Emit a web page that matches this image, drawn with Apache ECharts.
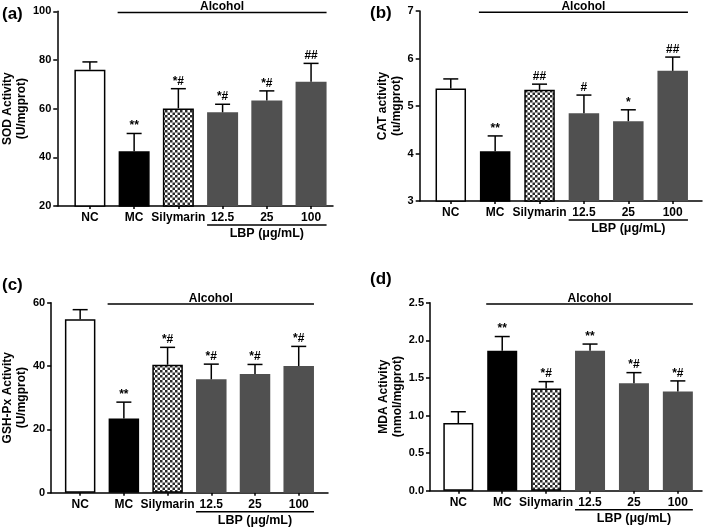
<!DOCTYPE html>
<html>
<head>
<meta charset="utf-8">
<script src="https://cdn.jsdelivr.net/npm/echarts@6/dist/echarts.min.js"></script>
<style>
html,body{margin:0;padding:0;background:#fff;}
#main{width:709px;height:528px;}
</style>
</head>
<body>
<div id="main"></div>
<script>
// ---------- data ----------
const categories = ['NC', 'MC', 'Silymarin', '12.5', '25', '100'];

const sodMean = [76.0, 42.5, 60.1, 58.5, 63.3, 71.1];
const sodErr  = [3.2, 7.3, 8.1, 3.3, 4.0, 7.5];
const sodSig  = ['', '**', '*#', '*#', '*#', '##'];

const catMean = [5.37, 4.05, 5.34, 4.85, 4.68, 5.74];
const catErr  = [0.20, 0.32, 0.12, 0.38, 0.24, 0.29];
const catSig  = ['', '**', '##', '#', '*', '##'];

const gshMean = [54.8, 23.4, 40.4, 35.8, 37.5, 40.0];
const gshErr  = [3.0, 5.2, 5.5, 4.8, 3.0, 6.2];
const gshSig  = ['', '**', '*#', '*#', '*#', '*#'];

const mdaMean = [0.90, 1.86, 1.36, 1.86, 1.43, 1.32];
const mdaErr  = [0.15, 0.19, 0.09, 0.09, 0.14, 0.14];
const mdaSig  = ['', '**', '*#', '**', '*#', '*#'];

const alcoholGroup = [1, 5];   // MC .. 100
const lbpGroup = [3, 5];       // 12.5 .. 100
const groupTitles = ['Alcohol', 'LBP (\u03bcg/mL)'];
const panelLetters = ['(a)', '(b)', '(c)', '(d)'];
const yNames = ['SOD Activity\n(U/mgprot)', 'CAT activity\n(u/mgprot)', 'GSH-Px Activity\n(U/mgprot)', 'MDA Activity\n(nmol/mgprot)'];

// ---------- layout / style ----------
const FONT = 'Liberation Sans, Arial, sans-serif';
const GRAY = '#505050';

function checker() {
  const c = document.createElement('canvas');
  c.width = 5; c.height = 5;
  const g = c.getContext('2d');
  g.fillStyle = '#ffffff'; g.fillRect(0, 0, 5, 5);
  g.fillStyle = '#2a2a2a'; g.fillRect(0, 0, 2.5, 2.5); g.fillRect(2.5, 2.5, 2.5, 2.5);
  return c;
}
const checkerImg = checker();

const barStyles = [
  { color: '#ffffff', borderColor: '#000', borderWidth: 1.5 },
  { color: '#000000', borderColor: '#000', borderWidth: 1.5 },
  { color: { image: checkerImg, repeat: 'repeat' }, borderColor: '#000', borderWidth: 1.5 },
  { color: GRAY, borderWidth: 0 },
  { color: GRAY, borderWidth: 0 },
  { color: GRAY, borderWidth: 0 }
];

const panels = [
  { grid: { left: 50, top: 11.3, width: 283, height: 194.7 }, xMin: -0.738, xMax: 5.496,
    yMin: 20, yMax: 100, yInt: 20, bw: 31, nameGap: 21, dec: 0,
    mean: sodMean, err: sodErr, sig: sodSig, letter: { left: 2, top: 6 }, lbpOff: 19 },
  { grid: { left: 419.7, top: 11, width: 282.3, height: 190 }, xMin: -0.70, xMax: 5.66,
    yMin: 3, yMax: 7, yInt: 1, bw: 30.5, nameGap: 11, dec: 0,
    mean: catMean, err: catErr, sig: catSig, letter: { left: 370, top: 5 }, lbpOff: 19 },
  { grid: { left: 46.7, top: 302.7, width: 281.3, height: 190 }, xMin: -0.664, xMax: 5.67,
    yMin: 0, yMax: 60, yInt: 20, bw: 30.5, nameGap: 19, dec: 0,
    mean: gshMean, err: gshErr, sig: gshSig, letter: { left: 2, top: 277 }, lbpOff: 19 },
  { grid: { left: 430, top: 302.7, width: 272, height: 188 }, xMin: -0.645, xMax: 5.55,
    yMin: 0, yMax: 2.5, yInt: 0.5, bw: 30, nameGap: 22, dec: 1,
    mean: mdaMean, err: mdaErr, sig: mdaSig, letter: { left: 370, top: 271 }, lbpOff: 19 }
];

const option = {
  animation: false,
  backgroundColor: '#ffffff',
  textStyle: { fontFamily: FONT },
  title: [], grid: [], xAxis: [], yAxis: [], series: []
};

panels.forEach((p, k) => {
  option.title.push({
    text: panelLetters[k], left: p.letter.left, top: p.letter.top, padding: 0,
    textStyle: { fontFamily: FONT, fontWeight: 'bold', fontSize: 17, color: '#000' }
  });
  option.grid.push(Object.assign({ containLabel: false }, p.grid));
  option.xAxis.push({
    type: 'value', gridIndex: k, min: p.xMin, max: p.xMax,
    splitLine: { show: false },
    axisLine: { show: true, onZero: false, lineStyle: { color: '#000', width: 1.5 } },
    axisTick: { show: true, customValues: [0, 1, 2, 3, 4, 5], length: 3, lineStyle: { color: '#000', width: 1.5 } },
    axisLabel: { show: true, customValues: [0, 1, 2, 3, 4, 5], margin: 6,
      formatter: v => categories[Math.round(v)],
      fontFamily: FONT, fontWeight: 'bold', fontSize: 12, color: '#000' }
  });
  option.yAxis.push({
    type: 'value', gridIndex: k, min: p.yMin, max: p.yMax, interval: p.yInt,
    splitLine: { show: false },
    axisLine: { show: true, onZero: false, lineStyle: { color: '#000', width: 1.5 } },
    axisTick: { show: true, length: 4, lineStyle: { color: '#000', width: 1.5 } },
    axisLabel: { margin: 6, fontFamily: FONT, fontWeight: 'bold', fontSize: 11, color: '#000',
      formatter: v => Number(v).toFixed(p.dec) },
    name: yNames[k], nameLocation: 'middle', nameGap: p.nameGap,
    nameTextStyle: { fontFamily: FONT, fontWeight: 'bold', fontSize: 12, lineHeight: 14, color: '#000' }
  });
  // bars
  option.series.push({
    type: 'bar', xAxisIndex: k, yAxisIndex: k, barWidth: p.bw, z: 2,
    data: p.mean.map((v, i) => ({ value: [i, v], itemStyle: barStyles[i] }))
  });
  // error bars + significance marks
  option.series.push({
    type: 'custom', xAxisIndex: k, yAxisIndex: k, z: 3,
    data: p.mean.map((v, i) => [i, v, p.err[i]]),
    renderItem: (params, api) => {
      const x = api.value(0), m = api.value(1), e = api.value(2);
      const b = api.coord([x, m]);
      const t = api.coord([x, m + e]);
      const half = 7.5;
      const children = [
        { type: 'line', shape: { x1: b[0], y1: b[1], x2: t[0], y2: t[1] }, style: { stroke: '#000', lineWidth: 1.5 } },
        { type: 'line', shape: { x1: t[0] - half, y1: t[1], x2: t[0] + half, y2: t[1] }, style: { stroke: '#000', lineWidth: 1.5 } }
      ];
      const s = p.sig[params.dataIndex];
      if (s) {
        children.push({ type: 'text', style: { text: s, x: t[0], y: t[1] - 1.5, align: 'center', verticalAlign: 'bottom',
          fontFamily: FONT, fontWeight: 'bold', fontSize: 12, fill: '#000' } });
      }
      return { type: 'group', children };
    }
  });
  // group brackets: Alcohol (above) and LBP (below)
  option.series.push({
    type: 'custom', xAxisIndex: k, yAxisIndex: k, z: 3, clip: false,
    data: [[alcoholGroup[0], alcoholGroup[1], 0], [lbpGroup[0], lbpGroup[1], 1]],
    renderItem: (params, api) => {
      const a = api.value(0), bIdx = api.value(1), which = api.value(2);
      const half = p.bw / 2;
      if (which === 0) {
        const pa = api.coord([a, p.yMax]), pb = api.coord([bIdx, p.yMax]);
        const y = pa[1] + 1.3;
        const x1 = pa[0] - half - 1, x2 = pb[0] + half;
        return { type: 'group', children: [
          { type: 'line', shape: { x1, y1: y, x2, y2: y }, style: { stroke: '#000', lineWidth: 1.5 } },
          { type: 'text', style: { text: groupTitles[0], x: (x1 + x2) / 2, y: y + 0.5, align: 'center', verticalAlign: 'bottom',
            fontFamily: FONT, fontWeight: 'bold', fontSize: 12, fill: '#000' } }
        ] };
      } else {
        const pa = api.coord([a, p.yMin]), pb = api.coord([bIdx, p.yMin]);
        const y = pa[1] + p.lbpOff;
        const x1 = pa[0] - half, x2 = pb[0] + half;
        return { type: 'group', children: [
          { type: 'line', shape: { x1, y1: y, x2, y2: y }, style: { stroke: '#000', lineWidth: 1.5 } },
          { type: 'text', style: { text: groupTitles[1], x: (x1 + x2) / 2, y: y + 2, align: 'center', verticalAlign: 'top',
            fontFamily: FONT, fontWeight: 'bold', fontSize: 12.5, fill: '#000' } }
        ] };
      }
    }
  });
});

const chart = echarts.init(document.getElementById('main'), null, { renderer: 'canvas' });
chart.setOption(option);
</script>
</body>
</html>
